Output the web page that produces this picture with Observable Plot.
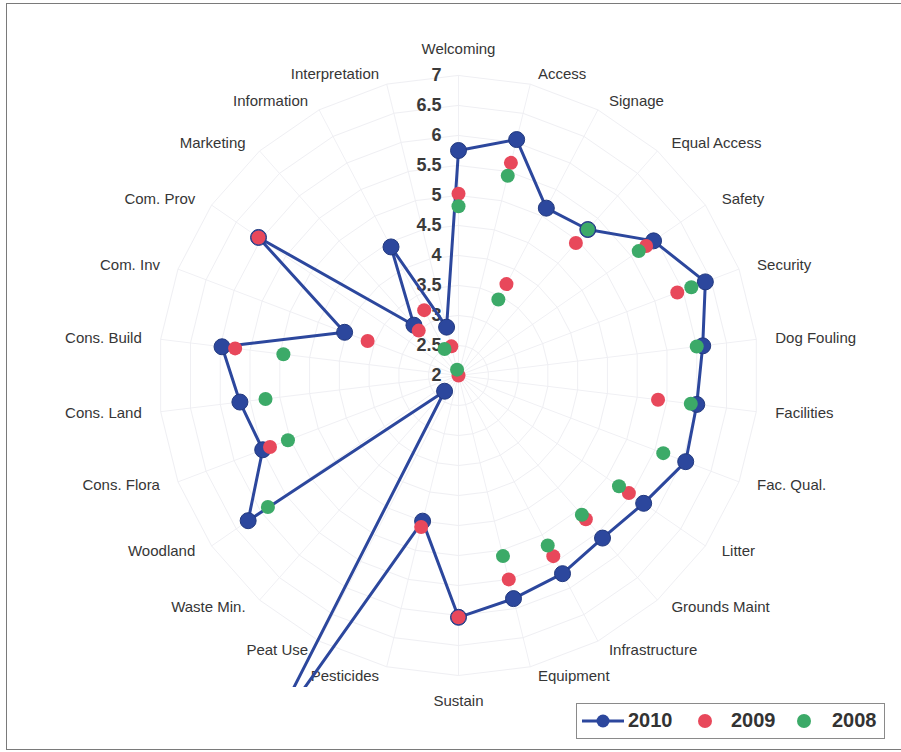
<!DOCTYPE html>
<html><head><meta charset="utf-8">
<script src="https://cdn.jsdelivr.net/npm/d3@7"></script>
<script src="https://cdn.jsdelivr.net/npm/@observablehq/plot@0.6"></script>
<style>
body{margin:0;background:#fff;font-family:"Liberation Sans",Arial,sans-serif;}
#wrap{position:relative;width:901px;height:752px;overflow:hidden;background:#fff;}
#chart{position:absolute;left:0;top:0;}
#border{position:absolute;left:6px;top:3px;width:895px;height:747px;border:1.5px solid #7a7a7a;border-right:none;box-sizing:border-box;pointer-events:none;}
#legend{position:absolute;left:576px;top:703px;width:309px;height:36px;border:1.5px solid #8a8a8a;box-sizing:border-box;background:#fff;font-weight:bold;font-size:20px;color:#333;}
#legend .it{position:absolute;top:0;height:33px;line-height:33px;}
#legend svg{position:absolute;top:0;}
</style></head>
<body><div id="wrap"><div id="chart"></div><div id="border"></div><div id="legend"></div></div>
<script>
const categories = ["Welcoming","Access","Signage","Equal Access","Safety","Security","Dog Fouling","Facilities","Fac. Qual.","Litter","Grounds Maint","Infrastructure","Equipment","Sustain","Pesticides","Peat Use","Waste Min.","Woodland","Cons. Flora","Cons. Land","Cons. Build","Com. Inv","Com. Prov","Marketing","Information","Interpretation"];
const v2010 = [5.75, 6.05, 5.15, 5.25, 5.95, 6.4, 6.1, 6.0, 6.05, 5.75, 5.62, 5.73, 5.83, 6.03, 4.5, 8.9, 2.35, 6.26, 5.49, 5.67, 5.97, 4.03, 6.05, 3.12, 4.42, 2.83];
const v2009 = [5.03, 5.65, 3.72, 4.95, 5.8, 5.9, null, 5.35, null, 5.45, 5.2, 5.4, 5.5, 6.03, 4.6, null, 2.0, null, 5.36, null, 5.75, 3.62, 6.05, 3.0, 3.23, 2.5];
const v2008 = [4.82, 5.43, 3.43, 5.25, 5.65, 6.15, 6.0, 5.9, 5.65, 5.25, 5.1, 5.2, 5.1, null, null, null, null, 5.86, 5.04, 5.24, 4.94, null, null, null, 2.5, 2.1];
const tickValues = [2, 2.5, 3, 3.5, 4, 4.5, 5, 5.5, 6, 6.5, 7];
const tickLabels = ["2", "2.5", "3", "3.5", "4", "4.5", "5", "5.5", "6", "6.5", "7"];
const seriesNames = ["2010", "2009", "2008"];
const seriesColors = ["#2c479d", "#e8485b", "#3caa68"];

const N = categories.length;
const rMin = tickValues[0];
const ang = i => i * 2 * Math.PI / N;
const px = (i, v) => (v - rMin) * Math.sin(ang(i));
const py = (i, v) => (v - rMin) * Math.cos(ang(i));

// layout
const W = 901, H = 752, cx = 458, cy = 375, ppu = 60;
const mL = 20, mR = 16, mT = 30, mB = 65;

const pts = vals => categories.map((c, i) => ({c, i, v: vals[i]})).filter(d => d.v != null);
const p2010 = pts(v2010), p2009 = pts(v2009), p2008 = pts(v2008);

const rings = [];
tickValues.slice(1).forEach(t => categories.forEach((c, i) => rings.push({t, i})));
const spokes = categories.map((c, i) => ({i}));
const labs = categories.map((c, i) => ({c, i, s: Math.sin(ang(i)), co: Math.cos(ang(i))}));
const Rx = 315 / ppu, Ry = 310 / ppu, Rm = 326 / ppu;
const labStyle = {fontSize: 15, fill: "#363636", fontFamily: "Liberation Sans, Arial, sans-serif"};

const chart = Plot.plot({
  width: W, height: H,
  marginLeft: mL, marginRight: mR, marginTop: mT, marginBottom: mB,
  x: {domain: [(mL - cx) / ppu, (W - mR - cx) / ppu], axis: null},
  y: {domain: [(cy - (H - mB)) / ppu, (cy - mT) / ppu], axis: null},
  style: {background: "transparent", fontFamily: "Liberation Sans, Arial, sans-serif"},
  marks: [
    Plot.link(spokes, {x1: () => 0, y1: () => 0, x2: d => px(d.i, tickValues[tickValues.length - 1]), y2: d => py(d.i, tickValues[tickValues.length - 1]), stroke: "#f0f0f4", strokeWidth: 1}),
    Plot.line(rings, {x: d => px(d.i, d.t), y: d => py(d.i, d.t), z: "t", curve: "linear-closed", stroke: "#efeff3", strokeWidth: 1}),
    Plot.text(tickValues, {x: () => 0, y: d => d - rMin, text: (d, i) => tickLabels[i], textAnchor: "end", dx: -17, fontSize: 18, fontWeight: "bold", fill: "#3a3a3a"}),
    Plot.text(labs.filter(d => d.s > 0.01), {x: d => Rx * d.s, y: d => Ry * d.co, text: "c", textAnchor: "start", dx: 4, ...labStyle}),
    Plot.text(labs.filter(d => d.s < -0.01), {x: d => Rx * d.s, y: d => Ry * d.co, text: "c", textAnchor: "end", dx: -4, ...labStyle}),
    Plot.text(labs.filter(d => Math.abs(d.s) <= 0.01), {x: d => Rm * d.s, y: d => Rm * d.co, text: "c", textAnchor: "middle", ...labStyle}),
    Plot.line(p2010, {x: d => px(d.i, d.v), y: d => py(d.i, d.v), curve: "linear-closed", stroke: seriesColors[0], strokeWidth: 3, clip: true}),
    Plot.dot(p2010, {x: d => px(d.i, d.v), y: d => py(d.i, d.v), r: 8, fill: seriesColors[0], stroke: "#22397f", strokeWidth: 1, clip: true}),
    Plot.dot(p2009, {x: d => px(d.i, d.v), y: d => py(d.i, d.v), r: 7, fill: seriesColors[1], clip: true}),
    Plot.dot(p2008, {x: d => px(d.i, d.v), y: d => py(d.i, d.v), r: 7, fill: seriesColors[2], clip: true})
  ]
});
document.getElementById("chart").appendChild(chart);

// legend
const lg = document.getElementById("legend");
const itemX = [[5, 51], [120, 154], [219, 255]];
seriesNames.forEach((name, k) => {
  const [mx, tx] = itemX[k];
  const w = k === 0 ? 42 : 16;
  const svg = d3.create("svg").attr("width", w).attr("height", 33).style("left", mx + "px");
  if (k === 0) svg.append("line").attr("x1", 0).attr("x2", w).attr("y1", 17).attr("y2", 17).attr("stroke", seriesColors[0]).attr("stroke-width", 3);
  svg.append("circle").attr("cx", w / 2).attr("cy", 17).attr("r", k === 0 ? 6.5 : 7).attr("fill", seriesColors[k]);
  lg.appendChild(svg.node());
  const t = document.createElement("div");
  t.className = "it"; t.style.left = tx + "px"; t.textContent = name;
  lg.appendChild(t);
});
</script>
</body></html>
